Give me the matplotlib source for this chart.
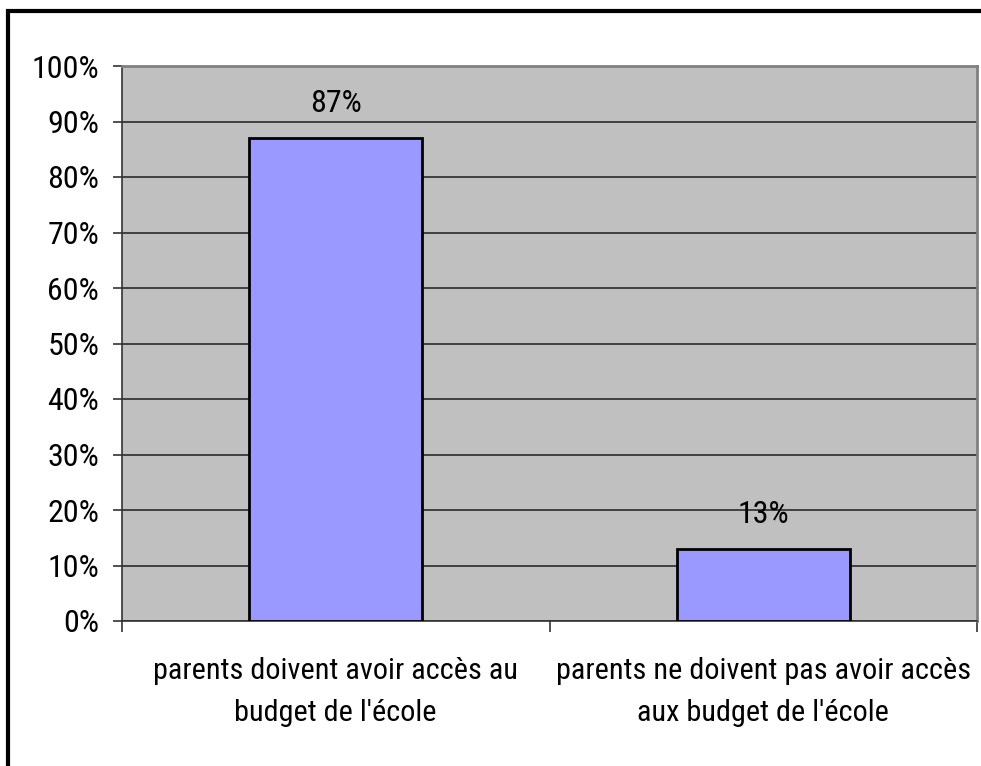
import matplotlib
matplotlib.use("Agg")
import matplotlib.pyplot as plt
from matplotlib.patches import Rectangle

categories = [
    "parents doivent avoir accès au\nbudget de l'école",
    "parents ne doivent pas avoir accès\naux budget de l'école",
]
values = [87, 13]
yticks = list(range(0, 101, 10))

plt.rcParams["font.family"] = ["Roboto Condensed", "DejaVu Sans"]
FS = 23

W, H = 981, 766
fig = plt.figure(figsize=(W / 100, H / 100), dpi=100)
fig.patch.set_facecolor("white")

# plot area in pixels: left 122, right 977, top 66, bottom 621
ax = fig.add_axes([122 / W, 1 - 621 / H, (977 - 122) / W, (621 - 66) / H])
ax.set_facecolor("#c0c0c0")

x = range(len(values))
ax.bar(x, values, width=0.405, color="#9999ff", edgecolor="black", linewidth=2, zorder=3)
for xi, v in zip(x, values):
    ax.text(xi, v + 4.7, f"{v}%", ha="center", va="baseline", fontsize=FS, zorder=4)

ax.set_xlim(-0.5, len(values) - 0.5)
ax.set_ylim(0, 100)
ax.set_yticks(yticks)
ax.set_yticklabels([f"{t}%" for t in yticks], fontsize=FS)
ax.yaxis.grid(True, color="#2a2a2a", linewidth=1.2, zorder=1)
ax.set_axisbelow(True)

# category labels sit between the boundary ticks
ax.set_xticks([-0.5, 0.5, 1.5])
ax.set_xticklabels([])
ax.set_xticks(list(x), minor=True)
ax.set_xticklabels(categories, minor=True, fontsize=21.8, linespacing=1.62)
ax.tick_params(axis="x", which="minor", length=0, pad=26)
ax.tick_params(axis="x", which="major", length=8, width=1.2, color="#333333")
ax.tick_params(axis="y", length=6.5, width=1.2, color="#333333", pad=10)

for side in ("top", "right"):
    ax.spines[side].set_color("#808080")
    ax.spines[side].set_linewidth(2)
for side in ("left", "bottom"):
    ax.spines[side].set_color("#333333")
    ax.spines[side].set_linewidth(1.2)

# outer frame runs off the right and bottom edges
fig.add_artist(Rectangle((8 / W, -0.05), 1.1, 1 - 11 / H + 0.05, transform=fig.transFigure,
                         fill=False, edgecolor="black", linewidth=3))

fig.savefig("out.png", dpi=100, facecolor="white")
